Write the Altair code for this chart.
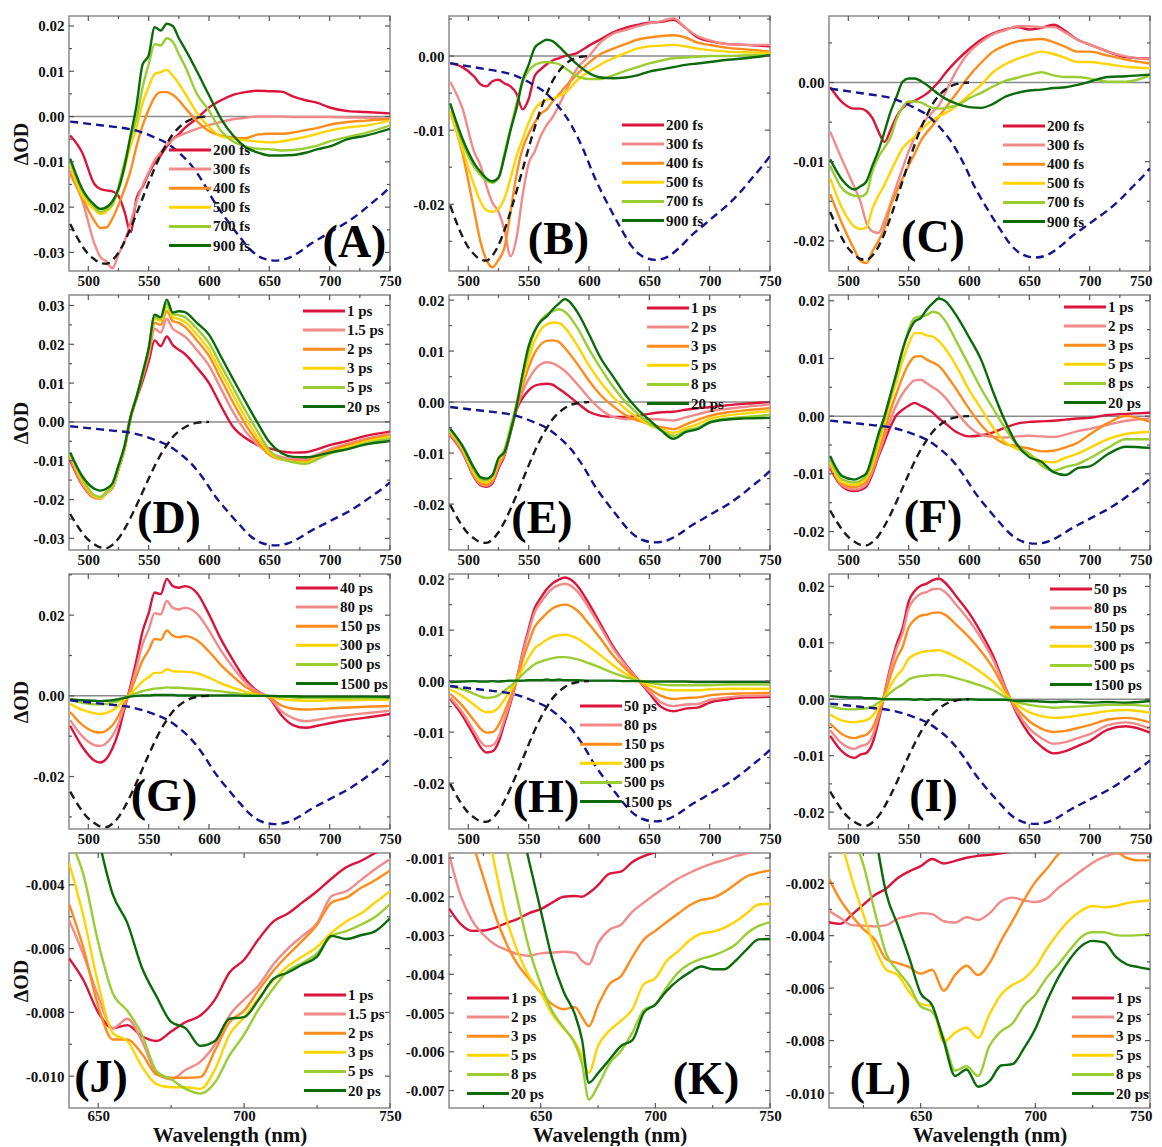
import altair as alt
import pandas as pd

# ---------------------------------------------------------------- data
# Transient-absorption values are typed in mOD (units of 1e-3 ΔOD).
WL = [485, 495, 505, 510, 515, 520, 525, 530, 535, 540, 545, 550, 555, 560, 565, 570, 575, 580,
      590, 600, 610, 620, 630, 640, 650, 660, 670, 680, 690, 700, 715, 730, 750]
WL_J = [640, 645, 650, 655, 660, 665, 670, 675, 680, 685, 690, 695, 700, 705, 710, 715, 720,
        725, 730, 735, 740, 745, 750]
WL_K = [610, 615, 620, 625, 630, 635, 640, 645, 650, 655, 660, 665, 668, 671, 675, 680, 685,
        690, 695, 700, 705, 710, 715, 720, 725, 730, 735, 740, 745, 750]
WL_L = [610, 615, 620, 625, 630, 635, 640, 645, 650, 655, 660, 665, 670, 675, 680, 685, 690,
        695, 700, 705, 710, 715, 720, 725, 730, 735, 740, 745, 750]

LAB_FS = ["200 fs", "300 fs", "400 fs", "500 fs", "700 fs", "900 fs"]
LAB_D = ["1 ps", "1.5 ps", "2 ps", "3 ps", "5 ps", "20 ps"]
LAB_E = ["1 ps", "2 ps", "3 ps", "5 ps", "8 ps", "20 ps"]
LAB_G = ["40 ps", "80 ps", "150 ps", "300 ps", "500 ps", "1500 ps"]
LAB_H = ["50 ps", "80 ps", "150 ps", "300 ps", "500 ps", "1500 ps"]

# steady-state reference spectra (normalised shapes, dashed curves)
GSB_WL = [485, 490, 495, 500, 505, 510, 515, 520, 525, 530, 535, 540, 545, 550, 555, 560, 565,
          570, 575, 580, 585, 590, 595, 600]
GSB_SHAPE = [0.73, 0.81, 0.88, 0.935, 0.97, 0.995, 1.0, 0.975, 0.925, 0.85, 0.76, 0.66, 0.555,
             0.45, 0.35, 0.26, 0.185, 0.12, 0.075, 0.042, 0.02, 0.008, 0.002, 0.0]
ABS_WL = [485, 495, 505, 515, 525, 535, 545, 555, 565, 575, 585, 595, 605, 615, 625, 635, 645,
          655, 665, 675, 685, 695, 705, 715, 725, 735, 745, 750]
ABS_SHAPE = [0.035, 0.045, 0.055, 0.065, 0.075, 0.088, 0.112, 0.145, 0.185, 0.25, 0.335, 0.455,
             0.6, 0.72, 0.83, 0.93, 0.985, 1.0, 0.985, 0.94, 0.88, 0.83, 0.78, 0.73, 0.67, 0.6,
             0.53, 0.49]
# depth (ΔOD) of black / blue dashed reference in each panel
REF_DEPTH = {"A": (-0.0325, -0.0318), "B": (-0.0276, -0.0275), "C": (-0.0224, -0.0221),
             "D": (-0.0325, -0.0318), "E": (-0.0276, -0.0275), "F": (-0.0224, -0.0221),
             "G": (-0.0325, -0.0318), "H": (-0.0276, -0.0275), "I": (-0.0224, -0.0221)}

A_200 = [-4.2, -8, -14.9, -16, -16.3, -16.5, -17.5, -21, -25.5, -18, -15.5, -12.6, -10.2, -8.6, -6.6, -5, -3.9, -2.5, -0.4, 2, 3.6, 4.8, 5.4, 5.7, 5.6, 5.5, 4.4, 3.6, 3, 2, 1.2, 1, 0.7]
A_300 = [-11.9, -18.5, -28, -31, -32, -33.5, -30.5, -27.5, -23.5, -18.8, -15.2, -12.3, -9.6, -7.9, -6.2, -5, -4.3, -3.7, -2.7, -1.9, -1.2, -0.6, -0.3, 0, 0, 0, -0.1, -0.1, -0.1, -0.1, -0.2, -0.3, -0.5]
A_400 = [-12.7, -18, -23, -24.6, -24.5, -22.5, -19.5, -16, -12, -6.5, -2, 1.5, 4.3, 5.4, 5.4, 4.8, 3.6, 2, -1, -3.2, -4.2, -4.6, -4.8, -4, -3.8, -3.8, -3.5, -3, -2.5, -1.8, -1.2, -0.9, -0.5]
A_500 = [-10.8, -17.5, -20.5, -21.5, -21, -19.5, -16, -11.5, -6.5, -2.5, 3, 6.5, 9.4, 9.8, 10.3, 9, 7.3, 5.2, 0.8, -2.3, -4.4, -4.9, -5.2, -5.5, -5.7, -5.5, -5, -4.5, -3.8, -3.1, -2.4, -2, -0.9]
A_700 = [-9.7, -16.5, -20, -21.1, -20.5, -19.5, -15.5, -10.1, -5, -0.5, 6.5, 11.5, 16, 15.7, 17.3, 16.5, 13.8, 11.2, 5, 1.3, -3.2, -5.5, -6.6, -7.1, -7.2, -7.5, -7.4, -7, -6.4, -5.5, -4.5, -3.6, -2]
A_900 = [-9.3, -16, -19.5, -20.4, -20, -18.7, -16, -11, -4.2, 2.5, 11.5, 13.5, 19.7, 19, 20.5, 20, 17.3, 15, 10, 4.7, -0.5, -4.2, -6.7, -7.9, -8.6, -8.6, -8.5, -8, -7.2, -6.6, -5, -4.2, -2.7]

B_200 = [-1.0, -1.5, -2.8, -3.8, -4.1, -3.4, -3.2, -3.7, -4.1, -5.1, -7.2, -5.8, -2.7, -1.8, -1.1, -0.6, -0.3, 0, 0.4, 1.4, 2.3, 3.2, 3.8, 4.2, 4.5, 4.6, 4.9, 3.8, 2.5, 2.0, 1.6, 1.5, 1.3]
B_300 = [-3.5, -7, -13, -14.7, -17.5, -19.8, -21, -23.5, -27, -24.5, -18.8, -14.5, -12.9, -10.8, -9.3, -8.2, -6.7, -5, -1.7, 0, 1.9, 3, 3.5, 4, 4.4, 4.7, 5.1, 3.8, 2.7, 2.1, 1.6, 1.5, 1.5]
B_400 = [-7.5, -13, -21, -25, -27.5, -28.5, -27.5, -25.8, -21, -16, -12.5, -10.5, -9, -7.8, -7.2, -6.1, -5.2, -4.2, -2.5, -0.9, 0.3, 1, 1.6, 2.2, 2.5, 2.7, 2.8, 2.5, 1.8, 1.5, 1.1, 0.9, 0.6]
B_500 = [-7.5, -12.5, -17.5, -19.6, -20.8, -21, -20.6, -19.2, -16.5, -13.5, -11.2, -9, -7.2, -6.3, -5.9, -5.7, -5.4, -5, -3.3, -2.1, -1.1, -0.3, 0.4, 1, 1.3, 1.4, 1.5, 1.3, 1, 0.8, 0.6, 0.5, 0.4]
B_700 = [-6.6, -11.6, -15, -16, -16.8, -17.1, -16.5, -13.1, -9.8, -6.4, -3.5, -2.0, -1.2, -0.9, -0.8, -0.9, -1.1, -1.6, -2.7, -3.1, -3.1, -2.6, -2, -1.5, -1, -0.6, -0.3, -0.2, -0.1, 0, 0, 0.1, 0.1]
B_900 = [-6.4, -11.1, -14.5, -15.6, -16.5, -16.9, -16.4, -13.5, -10, -7, -3.3, -1.2, 1.1, 1.8, 2.2, 2.0, 1.3, 0.5, -1.1, -2.3, -2.9, -3.0, -2.9, -2.6, -2.1, -1.8, -1.5, -1.2, -1.0, -0.8, -0.5, -0.3, 0.1]

C_200 = [-0.6, -2.5, -3.3, -3.3, -3.6, -4.5, -6.2, -7.5, -6, -4.3, -3.2, -2.6, -2.3, -1.9, -1.4, -0.7, 0.1, 1.1, 2.8, 4.2, 5.4, 6.2, 6.7, 7, 6.7, 6.9, 7.3, 6.5, 5.4, 4.8, 3.9, 3.2, 3]
C_300 = [-6.2, -9.8, -13.2, -15, -17.7, -18.8, -19, -17.4, -15.3, -13, -10.8, -8.7, -6.9, -5.6, -4.5, -3.7, -2.9, -1.4, 1.6, 3.8, 5.1, 6.1, 6.6, 7.1, 7.1, 7, 7, 6.3, 5.4, 4.8, 3.9, 3.3, 2.9]
C_400 = [-14.1, -17.9, -21.1, -22.5, -22.8, -21.3, -20, -18.4, -15.6, -13.8, -12.1, -10.5, -9, -7.4, -6.3, -5.4, -4.3, -3.3, -1.3, 0.8, 2.5, 3.9, 4.7, 5.2, 5.4, 5.5, 5.1, 4.5, 3.9, 3.9, 3.4, 2.9, 2.4]
C_500 = [-12.1, -15.9, -18.2, -18.5, -18.3, -15.9, -14.3, -12.9, -11.3, -9.7, -8.3, -7.5, -6.8, -6, -5.3, -4.7, -4.3, -3.9, -2.9, -1.6, -0.3, 1.3, 2.3, 3, 3.5, 3.9, 3.6, 3.1, 2.6, 2.6, 2.3, 2, 1.8]
C_700 = [-10.5, -13.4, -14.3, -14.4, -14, -11.2, -9.4, -8.2, -6.9, -4.6, -3.1, -2.4, -2.4, -2.5, -2.9, -3.2, -3.3, -3.2, -2.9, -2, -1.3, -0.5, 0.2, 0.6, 1, 1.3, 0.9, 0.7, 0.7, 0.5, 0.1, 0.1, 0.9]
C_900 = [-9.7, -12.3, -13.5, -13.1, -12.5, -10.5, -8.6, -6.2, -3.7, -1.8, 0.1, 0.5, 0.5, 0.2, -0.3, -0.9, -1.5, -2, -2.7, -3.1, -3.2, -2.7, -1.8, -1.3, -1, -0.9, -0.7, -0.6, -0.3, 0.1, 0.7, 0.8, 1]

D_1 = [-10, -16.2, -19.5, -19.6, -18.2, -17, -12.2, -7, 1, 6, 10.5, 15.5, 21, 19.5, 22, 19.8, 18.6, 17.5, 14, 10, 4.1, -1.3, -4.1, -5.9, -6.8, -7.6, -7.9, -7.8, -7, -6, -4.9, -3.6, -2.5]
D_15 = [-9.5, -16, -19.6, -19.8, -18.4, -17, -12.2, -7, 1, 6.2, 11.5, 17, 24, 23, 26.5, 24, 23, 22, 18.5, 14.5, 8.5, 2.5, -2.3, -5.8, -8, -9, -9.6, -9.5, -8.3, -7, -5.6, -4.3, -3.0]
D_2 = [-9, -15.5, -19.4, -19.7, -18.3, -16.8, -12, -6.8, 1.1, 6.3, 12, 18, 25.5, 25, 28.5, 26, 25.5, 24.5, 21, 17, 11, 5, -0.5, -5, -8.5, -9.7, -10, -10.1, -8.8, -7.5, -6, -4.7, -3.5]
D_3 = [-8.6, -15.2, -19.2, -19.6, -18.2, -16.6, -11.9, -6.7, 1.2, 6.4, 12.3, 18.5, 26.5, 26, 29.5, 27, 26.5, 25.8, 22.5, 18.6, 12.8, 7, 1.2, -3.8, -8, -9.6, -10.3, -10.5, -9.2, -7.8, -6.5, -5.1, -3.8]
D_5 = [-8.2, -14.5, -18.9, -19.3, -18, -16.4, -11.8, -6.5, 1.3, 6.5, 12.5, 18.8, 27, 26.5, 30.5, 27.8, 27.5, 27, 24, 20.3, 14.5, 8.8, 3, -2.3, -7.3, -9.5, -10.4, -10.8, -9.6, -8.2, -7, -5.5, -4.3]
D_20 = [-7.9, -14, -17.2, -17.7, -17.2, -15.8, -11.2, -6.2, 1.3, 6.5, 12.5, 19, 27.6, 27, 31.5, 28.2, 28.5, 28.3, 25.5, 22.5, 16.8, 11, 5.4, -0.1, -5.2, -8, -9, -9.1, -8.7, -7.9, -7, -5.8, -4.9]

E_1 = [-6.5, -9.8, -14.8, -16.3, -16.6, -15.9, -13, -10.5, -6, -1.5, 0.8, 2.3, 3.2, 3.5, 3.6, 3.4, 2.6, 1.8, -0.1, -1.9, -2.7, -2.9, -2.9, -2.7, -2.3, -2, -1.9, -1.5, -1.2, -1, -0.6, -0.3, 0]
E_2 = [-6.3, -9.6, -14.6, -16.1, -16.4, -15.6, -12.6, -10.2, -5.8, -1.2, 2.0, 4.5, 6.3, 7.4, 7.8, 7.6, 7, 6.1, 3.6, 0.8, -1.5, -2.9, -3.3, -3.3, -3.3, -3.4, -3.6, -3.0, -2.4, -1.8, -1.3, -0.9, -0.5]
E_3 = [-6.0, -9.4, -14.4, -15.9, -16.2, -15.3, -12.2, -9.9, -5.5, -0.9, 3.2, 6.8, 9.6, 11.3, 12, 12.1, 11.8, 10.6, 7.6, 4.2, 1.3, -0.8, -2.5, -3.6, -4.3, -4.9, -5.3, -4.4, -3.5, -2.7, -2, -1.6, -1.2]
E_5 = [-5.7, -9.1, -14, -15.5, -15.7, -14.9, -11.7, -9.6, -5.2, -0.6, 4.3, 8.5, 12, 14.2, 15.2, 15.6, 15.5, 14.6, 11.2, 7.2, 3.8, 1, -1.3, -3, -4.5, -5.3, -6, -5.1, -4.3, -3.3, -2.6, -2.2, -1.8]
E_8 = [-5.4, -8.8, -13.5, -15.1, -15.3, -14.5, -11.2, -9.3, -4.9, -0.3, 5.3, 10, 13.8, 16, 17.2, 17.8, 18.2, 17.7, 14.7, 10.4, 6.5, 3, 0.1, -2.2, -4.2, -5.5, -6.6, -5.6, -5, -3.9, -3.2, -2.9, -2.5]
E_20 = [-5.2, -8.5, -13, -14.7, -15, -14.3, -11, -9.8, -5.8, -0.8, 5.5, 11, 14, 15.8, 16.8, 18.2, 19.3, 20.2, 17.8, 13.3, 8.5, 5, 1.5, -1.3, -3.5, -5.6, -7.2, -5.9, -5.3, -4, -3.4, -3.2, -3.1]

F_1 = [-9, -12.2, -13, -12.8, -12.2, -10, -7, -4.4, -1.8, 0.2, 1.1, 1.8, 2.3, 1.8, 1.3, 0.6, -0.4, -1.2, -2.8, -3.5, -3.3, -2.8, -2.0, -1.3, -1.0, -0.9, -0.8, -0.6, -0.4, -0.3, 0.2, 0.4, 0.6]
F_2 = [-8.6, -12, -12.7, -12.5, -11.8, -9.6, -6.6, -3.6, -0.5, 2.0, 3.9, 5.3, 6.2, 6.3, 5.7, 5, 4.3, 3.3, 0.6, -1.8, -3.2, -3.6, -3.7, -3.5, -3.4, -3.5, -3.6, -3.2, -2.6, -2.2, -1.5, -0.8, -0.4]
F_3 = [-8.3, -11.8, -12.3, -12, -11.3, -9, -5.8, -2.5, 1, 4, 6.8, 9, 10.3, 10.4, 9.8, 9.3, 8.7, 7.5, 4.5, 1.3, -1.5, -3.6, -4.8, -5.2, -5.6, -6.1, -6, -5.4, -4.6, -3.2, -1.2, 0, -1]
F_5 = [-8, -11.5, -11.9, -11.6, -10.8, -8.4, -5, -1.3, 2.6, 6, 9.6, 12.5, 14.4, 14.4, 14, 13.8, 13, 11.8, 8.5, 4.6, 1.3, -2, -4.5, -5.7, -6.6, -7.8, -8, -7.2, -6.5, -5.5, -4, -3.1, -2.7]
F_8 = [-7.4, -11, -11.5, -11.2, -10.3, -7.6, -4, -0.5, 3.4, 7.2, 11.2, 15, 17, 17.3, 17.5, 18.1, 17.8, 16.6, 12.8, 8.8, 4.8, 1.3, -2.1, -5, -6.5, -8.5, -9.5, -8.8, -8.3, -7.3, -5.5, -4, -4]
F_20 = [-6.9, -10.4, -11, -10.6, -9.9, -6.8, -3.1, 0, 3.8, 7.6, 11.6, 14.5, 16.4, 17, 18.5, 19.6, 20.4, 20, 17.3, 13.7, 9.8, 4.2, -0.9, -5, -7.1, -7.9, -9.7, -10.2, -9, -8.7, -6.6, -5.3, -5.5]

G_40 = [-7.4, -12.6, -16, -16.5, -15.6, -13, -9, -3.1, 2.5, 9, 16, 20.5, 25.6, 25.2, 29, 27.2, 26.8, 27.2, 25.5, 20.2, 14, 8.8, 4.2, 1.2, -0.5, -4.8, -7.3, -7.9, -7.4, -6.8, -6, -5.4, -4.5]
G_80 = [-6, -10, -12.2, -12.4, -11.7, -9.9, -6.9, -2.5, 1.8, 7.2, 12.8, 16.4, 20.5, 20.2, 23.5, 21.8, 21.4, 21.8, 20.4, 16.2, 11.2, 7, 3.4, 1, -0.4, -3.8, -5.6, -6.3, -5.9, -5.4, -4.8, -4.3, -3.7]
G_150 = [-4, -7.2, -8.9, -9.1, -8.6, -7.3, -5, -1.8, 1.2, 5, 8.8, 11.3, 14.1, 13.9, 16.2, 14.9, 14.5, 14.8, 13.8, 11, 7.6, 4.8, 2.3, 0.6, -0.3, -2.4, -3.2, -3.4, -3.3, -3.1, -2.9, -2.7, -2.5]
G_300 = [-2, -3.5, -4.3, -4.5, -4.2, -3.6, -2.5, -0.9, 0.5, 2, 3.6, 4.6, 5.7, 5.7, 6.6, 6.1, 6, 6, 5.6, 4.5, 3.1, 2, 1, 0.3, -0.1, -0.8, -1.1, -1.2, -1.2, -1.1, -1.1, -1.0, -1.0]
G_500 = [-1, -1.7, -2.1, -2.1, -2, -1.7, -1.3, -0.5, 0.2, 0.7, 1.2, 1.5, 1.8, 1.9, 2.1, 2, 2, 1.9, 1.7, 1.4, 1.1, 0.7, 0.4, 0.1, 0, -0.2, -0.4, -0.5, -0.5, -0.6, -0.6, -0.6, -0.6]
G_1500 = [-0.8, -1.1, -1.2, -1.3, -1.2, -1.1, -0.8, -0.5, -0.2, 0, 0.1, 0.1, 0.2, 0.2, 0.2, 0.2, 0.1, 0.1, 0.1, 0.1, 0.1, 0.1, 0, 0, 0, -0.1, -0.1, -0.2, -0.2, -0.2, -0.2, -0.2, -0.3]

H_50 = [-3.5, -6.7, -10.8, -12.9, -14, -13.8, -12, -8.2, -4.3, 0.2, 5.6, 10.2, 14.3, 16.3, 18, 19.2, 19.9, 20.3, 18.8, 15.2, 11, 6.8, 3.4, 0.5, -2.4, -5.1, -5.9, -5.4, -5.2, -4.2, -3.6, -3.2, -3.1]
H_80 = [-3.2, -6.1, -9.9, -11.8, -12.8, -12.6, -11, -7.5, -3.9, 0.2, 5.3, 9.6, 13.5, 15.4, 17, 18.2, 18.8, 19.1, 17.7, 14.3, 10.4, 6.4, 3.2, 0.4, -2.0, -4.2, -4.9, -4.6, -4.5, -3.7, -3.2, -2.9, -2.8]
H_150 = [-2.5, -4.8, -7.8, -9.3, -10.1, -10, -8.7, -6, -3.1, 0.1, 4.1, 7.5, 10.6, 12.1, 13.3, 14.3, 14.8, 15, 13.9, 11.2, 8.2, 5, 2.5, 0.3, -1.5, -2.9, -3.5, -3.3, -3.2, -2.8, -2.5, -2.4, -2.3]
H_300 = [-1.6, -2.9, -4.7, -5.6, -6.1, -6, -5.2, -3.6, -1.8, 0.1, 2.5, 4.6, 6.4, 7.3, 8.1, 8.7, 9, 9.1, 8.4, 6.8, 5, 3.1, 1.5, 0.2, -0.8, -1.5, -1.8, -1.8, -1.8, -1.6, -1.5, -1.5, -1.5]
H_500 = [-1, -1.6, -2.5, -3, -3.3, -3.2, -2.8, -1.9, -1, 0.1, 1.3, 2.4, 3.3, 3.8, 4.2, 4.5, 4.7, 4.7, 4.3, 3.5, 2.6, 1.6, 0.8, 0.2, -0.3, -0.7, -0.8, -0.8, -0.8, -0.8, -0.7, -0.7, -0.7]
H_1500 = [-0.2, -0.1, 0, -0.1, -0.1, 0, -0.1, 0, 0.1, 0.1, 0.1, 0.2, 0.2, 0.2, 0.3, 0.2, 0.3, 0.2, 0.2, 0.1, 0.1, 0.1, 0, 0, -0.1, -0.1, -0.1, -0.1, -0.2, -0.2, -0.2, -0.2, -0.2]

I_50 = [-6.5, -9.3, -10.4, -9.8, -9.5, -7.8, -3.9, 1, 5.8, 9.7, 12.6, 17.3, 19.2, 20.1, 20.5, 21.1, 21.4, 20.7, 18.1, 15.3, 11.8, 7.7, 2.2, -2.7, -6.2, -8.4, -9.6, -9.2, -8.3, -7.4, -5.4, -4.8, -5.9]
I_80 = [-5.5, -7.9, -8.8, -8.3, -8, -6.5, -3.2, 0.9, 5.3, 9, 11.7, 16.1, 17.8, 18.7, 19, 19.5, 19.6, 19, 16.6, 14, 10.8, 7, 2, -2.3, -5.2, -6.9, -7.9, -7.6, -6.9, -6.2, -4.6, -4.1, -5.2]
I_150 = [-4.3, -6.2, -6.9, -6.6, -6.3, -5.1, -2.5, 0.7, 4.2, 7.2, 9.3, 12.7, 14.1, 14.8, 15, 15.3, 15.4, 15, 13.1, 11, 8.5, 5.5, 1.6, -1.7, -3.9, -5.2, -5.8, -5.6, -5.1, -4.6, -3.6, -3.3, -4.1]
I_300 = [-2.7, -3.8, -4.1, -3.9, -3.7, -3, -1.4, 0.4, 2.4, 4.1, 5.3, 7.2, 7.9, 8.3, 8.5, 8.6, 8.7, 8.4, 7.4, 6.2, 4.8, 3.1, 0.9, -1, -2.3, -3, -3.3, -3.2, -2.9, -2.6, -2.1, -1.9, -2.4]
I_500 = [-1.2, -1.7, -1.8, -1.7, -1.6, -1.3, -0.6, 0.2, 1.2, 2, 2.6, 3.5, 3.9, 4.1, 4.2, 4.3, 4.3, 4.2, 3.7, 3.1, 2.4, 1.6, 0.4, -0.5, -1, -1.3, -1.5, -1.4, -1.3, -1.2, -1, -1, -1.2]
I_1500 = [0.6, 0.4, 0.3, 0.3, 0.2, 0.2, 0.1, 0, 0, 0, 0, 0, -0.1, 0, -0.1, 0, 0, -0.1, -0.1, 0, -0.1, -0.1, -0.1, -0.3, -0.3, -0.4, -0.5, -0.4, -0.5, -0.6, -0.5, -0.6, -0.3]

J_1 = [-6.3, -7.0, -8.0, -8.5, -8.4, -8.75, -8.9, -8.6, -8.3, -8.1, -7.6, -6.75, -6.35, -5.7, -5.15, -4.9, -4.55, -4.2, -3.8, -3.45, -3.25, -3.0, -2.8]
J_15 = [-5.1, -6.2, -7.5, -8.5, -8.2, -8.9, -9.9, -10.1, -9.8, -9.55, -9, -8.1, -7.6, -7.15, -6.5, -6.0, -5.6, -5.2, -4.35, -4.2, -3.85, -3.5, -3.2]
J_2 = [-4.6, -6.0, -7.8, -8.85, -8.85, -9.3, -9.95, -10.05, -10.05, -10.03, -9.2, -8.3, -7.95, -7.3, -6.7, -6.2, -5.75, -5.25, -4.55, -4.4, -4.1, -3.85, -3.55]
J_3 = [-3.3, -5.0, -7.1, -8.65, -8.9, -9.7, -10.25, -10.35, -10.35, -10.4, -9.8, -8.7, -8.15, -7.55, -7.0, -6.55, -6.25, -5.95, -5.5, -5.15, -4.9, -4.55, -4.2]
J_5 = [-2.5, -3.7, -5.8, -7.4, -7.95, -8.7, -9.85, -10.1, -10.4, -10.55, -10.2, -9.35, -8.7, -7.9, -7.25, -6.7, -6.45, -6.15, -5.6, -5.45, -5.25, -5.0, -4.6]
J_20 = [None, None, -2.5, -4.3, -5.2, -6.6, -7.5, -8.3, -8.5, -9.05, -8.9, -8.2, -8.15, -7.6, -6.95, -6.75, -6.5, -6.25, -5.6, -5.7, -5.58, -5.45, -5.05]

K_1 = [-2.3, -2.7, -2.88, -2.87, -2.8, -2.68, -2.57, -2.42, -2.32, -2.15, -2.0, -1.98, -2.0, -1.9, -1.7, -1.4, -1.35, -1.1, -0.95, -0.85, -0.78, None, None, None, None, None, None, None, None, None]
K_2 = [-0.9, -1.95, -2.6, -2.98, -3.23, -3.37, -3.48, -3.52, -3.46, -3.44, -3.42, -3.45, -3.65, -3.74, -3.2, -2.85, -2.72, -2.38, -2.15, -1.93, -1.72, -1.53, -1.38, -1.25, -1.14, -1.05, -0.95, -0.88, -0.8, -0.72]
K_3 = [None, None, -0.56, -1.5, -2.45, -3.2, -3.75, -4.12, -4.47, -4.77, -4.9, -4.85, -5.1, -5.34, -4.8, -4.25, -4.05, -3.55, -3.1, -2.88, -2.65, -2.43, -2.22, -2.08, -2.03, -1.88, -1.67, -1.47, -1.38, -1.32]
K_5 = [None, None, None, 0.4, -1.2, -2.55, -3.42, -4.06, -4.47, -5.03, -5.4, -5.75, -6.1, -6.54, -5.85, -5.45, -5.2, -4.9, -4.25, -4.1, -3.65, -3.4, -3.12, -2.95, -2.9, -2.8, -2.64, -2.42, -2.2, -2.18]
K_8 = [None, None, None, None, 0.6, -0.76, -2.1, -3.35, -4.25, -4.95, -5.37, -5.8, -6.3, -7.23, -6.87, -6.3, -5.98, -5.5, -4.92, -4.78, -4.33, -3.95, -3.73, -3.6, -3.52, -3.4, -3.23, -2.94, -2.75, -2.66]
K_20 = [None, None, None, None, None, None, 0.2, -1.1, -2.35, -3.6, -4.45, -5.05, -5.68, -6.8, -6.55, -6.2, -5.85, -5.7, -4.99, -4.78, -4.42, -4.15, -3.95, -3.8, -3.87, -3.87, -3.65, -3.35, -3.1, -3.09]

L_1 = [-3.49, -3.55, -3.2, -2.82, -2.45, -2.2, -1.8, -1.55, -1.35, -1.08, -1.25, -1.15, -1.03, -0.96, -0.92, -0.86, -0.8, None, None, None, None, None, None, None, None, None, None, None, None]
L_2 = [-3.05, -3.33, -3.6, -3.62, -3.65, -3.6, -3.35, -3.25, -3.14, -3.18, -3.45, -3.5, -3.3, -3.4, -3.15, -2.7, -2.55, -2.65, -2.72, -2.58, -2.18, -1.86, -1.53, -1.22, -1.0, -0.87, -0.86, -0.86, -0.86]
L_3 = [-1.83, -2.65, -3.25, -3.75, -4.15, -4.9, -5.05, -5.2, -5.45, -5.3, -6.1, -5.5, -5.15, -5.5, -5.05, -4.2, -3.45, -2.65, -1.95, -1.45, -0.9, -0.5, -0.3, -0.3, -0.5, -0.75, -1.05, -1.13, -1.13]
L_5 = [None, -0.3, -1.85, -3.2, -4.45, -5.3, -5.5, -6.15, -6.6, -6.7, -8.05, -7.7, -7.51, -7.9, -7.0, -6.25, -5.88, -5.65, -5.2, -4.5, -3.9, -3.4, -3.05, -2.87, -2.92, -2.87, -2.76, -2.7, -2.66]
L_8 = [None, None, -0.2, -1.3, -3.1, -4.7, -5.35, -5.9, -6.7, -6.9, -7.9, -9.15, -8.98, -9.35, -8.2, -7.65, -7.35, -6.68, -6.25, -5.6, -5.1, -4.55, -4.05, -3.87, -3.87, -3.98, -4.0, -3.98, -3.94]
L_20 = [None, None, None, None, 0.0, -2.4, -3.6, -4.85, -6.2, -6.65, -8.0, -9.35, -9.1, -9.76, -9.55, -8.95, -8.9, -8.3, -7.55, -6.5, -5.6, -4.9, -4.4, -4.2, -4.26, -4.8, -5.1, -5.2, -5.28]

# ---------------------------------------------------------------- style
FONT = "Liberation Serif"
COLORS = ["#dc143c", "#f28a8a", "#ff8c1a", "#ffd400", "#9acd32", "#0b6b0b"]
GRAY = "#8a8a8a"
TICK = "#555555"
PW, PH = 321, 255
LEG_DY = 19.1      # legend row pitch (px)
LEG_LEN = 42       # legend line length (px)

X_TOP = dict(xdom=[484, 750], xmaj=[500, 550, 600, 650, 700, 750], xmin=[525, 575, 625, 675, 725])


def panel(letter, wl, series, labels, ydom, ymaj, ymin, yfmt, leg, lab,
          xdom, xmaj, xmin, ytitle=False, xtitle=False, refs=None, zero=True, flush=False):
    rows = []
    for name, arr in zip(labels, series):
        if len(arr) != len(wl):
            raise ValueError(f"{letter} {name}: {len(arr)} values for {len(wl)} wavelengths")
        for w, v in zip(wl, arr):
            rows.append({"wl": w, "od": (None if v is None else v / 1000.0), "series": name})
    df = pd.DataFrame(rows)

    xkw = dict(values=xmaj, format="d", labelPadding=(0 if xtitle else 2), labelOverlap=False)
    if flush:
        xkw.update(labelFlush=True, labelFlushOffset=2)
    else:
        xkw.update(labelFlush=False)
    if xtitle:
        xkw.update(title="Wavelength (nm)", titleFontSize=21, titleX=PW / 2, titleY=27,
                   titleAlign="center", titleBaseline="middle")
    else:
        xkw.update(title=None)
    ykw = dict(values=ymaj, labelPadding=5, labelOverlap=False,
               labelExpr=f"replace(format(datum.value, '{yfmt}'), '\u2212', '-')")
    if ytitle:
        ykw.update(title="ΔOD", titleFontSize=20, titleX=-48, titleY=PH / 2, titleAngle=270,
                   titleAlign="center", titleBaseline="middle")
    else:
        ykw.update(title=None)

    xenc = alt.X("wl:Q", scale=alt.Scale(domain=xdom, nice=False, zero=False), axis=alt.Axis(**xkw))
    yenc = alt.Y("od:Q", scale=alt.Scale(domain=ydom, nice=False, zero=False), axis=alt.Axis(**ykw))
    cscale = alt.Scale(domain=labels, range=COLORS)

    layers = []
    if zero:
        layers.append(alt.Chart(pd.DataFrame({"od": [0.0]})).mark_rule(
            color=GRAY, strokeWidth=1.5).encode(y=yenc))
    layers.append(alt.Chart(df).mark_line(strokeWidth=2.4, clip=True, interpolate="monotone").encode(
        x=xenc, y=yenc, color=alt.Color("series:N", scale=cscale, legend=None)))
    if refs:
        gb = pd.DataFrame({"wl": GSB_WL, "od": [s * refs[0] for s in GSB_SHAPE]})
        ab = pd.DataFrame({"wl": ABS_WL, "od": [s * refs[1] for s in ABS_SHAPE]})
        layers.append(alt.Chart(gb).mark_line(color="#1a1a1a", strokeDash=[8, 5], strokeWidth=2.4,
                                              clip=True, interpolate="monotone").encode(x=xenc, y=yenc))
        layers.append(alt.Chart(ab).mark_line(color="#14148c", strokeDash=[8, 5], strokeWidth=2.4,
                                              clip=True, interpolate="monotone").encode(x=xenc, y=yenc))

    # inward ticks on all four sides
    ymaj_in = [t for t in ymaj if ydom[0] <= t <= ydom[1]]
    ymin_in = [t for t in ymin if ydom[0] <= t <= ydom[1]]
    tk = dict(color=TICK, strokeWidth=1.2)
    for vals, ln in ((xmaj, 5), (xmin, 3)):
        d = pd.DataFrame({"wl": vals})
        layers.append(alt.Chart(d).mark_rule(**tk).encode(x=xenc, y=alt.value(PH), y2=alt.value(PH - ln)))
        layers.append(alt.Chart(d).mark_rule(**tk).encode(x=xenc, y=alt.value(0), y2=alt.value(ln)))
    for vals, ln in ((ymaj_in, 5), (ymin_in, 3)):
        d = pd.DataFrame({"od": vals})
        layers.append(alt.Chart(d).mark_rule(**tk).encode(y=yenc, x=alt.value(0), x2=alt.value(ln)))
        layers.append(alt.Chart(d).mark_rule(**tk).encode(y=yenc, x=alt.value(PW), x2=alt.value(PW - ln)))

    # in-plot legend (line sample + label)
    leg_df = pd.DataFrame({"series": labels,
                           "ly": [leg[1] + i * LEG_DY for i in range(len(labels))]})
    ly = alt.Y("ly:Q", scale=None, axis=None)
    layers.append(alt.Chart(leg_df).mark_rule(strokeWidth=3).encode(
        x=alt.value(leg[0]), x2=alt.value(leg[0] + LEG_LEN), y=ly,
        color=alt.Color("series:N", scale=cscale, legend=None)))
    layers.append(alt.Chart(leg_df).mark_text(
        align="left", baseline="middle", font=FONT, fontSize=15, fontWeight="bold",
        color="#111111").encode(x=alt.value(leg[0] + LEG_LEN + 2), y=ly, text="series:N"))

    layers.append(alt.Chart(pd.DataFrame({"t": [f"({letter})"]})).mark_text(
        font=FONT, fontSize=46, fontWeight="bold", color="#000000", align="center",
        baseline="middle").encode(text="t:N", x=alt.value(lab[0]), y=alt.value(lab[1])))
    return alt.layer(*layers).properties(width=PW, height=PH)


Y_E = dict(ymaj=[-0.02, -0.01, 0.0, 0.01, 0.02], ymin=[-0.025, -0.015, -0.005, 0.005, 0.015], yfmt=".2f")

panels = [
    panel("A", WL, [A_200, A_300, A_400, A_500, A_700, A_900], LAB_FS, [-0.0341, 0.0222],
          [-0.03, -0.02, -0.01, 0.0, 0.01, 0.02], [-0.025, -0.015, -0.005, 0.005, 0.015], ".2f",
          (100, 134), (285.5, 227), ytitle=True, refs=REF_DEPTH["A"], **X_TOP),
    panel("B", WL, [B_200, B_300, B_400, B_500, B_700, B_900], LAB_FS, [-0.0290, 0.0054],
          [-0.02, -0.01, 0.0], [-0.025, -0.015, -0.005, 0.005], ".2f",
          (173, 109), (109.5, 223.5), refs=REF_DEPTH["B"], **X_TOP),
    panel("C", WL, [C_200, C_300, C_400, C_500, C_700, C_900], LAB_FS, [-0.0238, 0.0084],
          [-0.02, -0.01, 0.0], [-0.015, -0.005, 0.005], ".2f",
          (174, 110), (104, 222), refs=REF_DEPTH["C"], flush=True, **X_TOP),
    panel("D", WL, [D_1, D_15, D_2, D_3, D_5, D_20], LAB_D, [-0.0330, 0.0327],
          [-0.03, -0.02, -0.01, 0.0, 0.01, 0.02, 0.03], [-0.025, -0.015, -0.005, 0.005, 0.015, 0.025], ".2f",
          (234, 16), (100, 224), ytitle=True, refs=REF_DEPTH["D"], **X_TOP),
    panel("E", WL, [E_1, E_2, E_3, E_5, E_8, E_20], LAB_E, [-0.0290, 0.0210], leg=(198, 13), lab=(93, 224),
          refs=REF_DEPTH["E"], **Y_E, **X_TOP),
    panel("F", WL, [F_1, F_2, F_3, F_5, F_8, F_20], LAB_E, [-0.0232, 0.0210], leg=(235, 12), lab=(104, 223),
          refs=REF_DEPTH["F"], flush=True, **Y_E, **X_TOP),
    panel("G", WL, [G_40, G_80, G_150, G_300, G_500, G_1500], LAB_G, [-0.0330, 0.0302],
          [-0.02, 0.0, 0.02], [-0.03, -0.01, 0.01, 0.03], ".2f",
          (227, 14), (95, 223), ytitle=True, refs=REF_DEPTH["G"], **X_TOP),
    panel("H", WL, [H_50, H_80, H_150, H_300, H_500, H_1500], LAB_H, [-0.0290, 0.0210], leg=(131, 132),
          lab=(97, 224), refs=REF_DEPTH["H"], **Y_E, **X_TOP),
    panel("I", WL, [I_50, I_80, I_150, I_300, I_500, I_1500], LAB_H, [-0.0230, 0.0222], leg=(221, 15),
          lab=(104.5, 223), refs=REF_DEPTH["I"], flush=True, **Y_E, **X_TOP),
    panel("J", WL_J, [J_1, J_15, J_2, J_3, J_5, J_20], LAB_D, [-0.0110, -0.0030],
          [-0.010, -0.008, -0.006, -0.004], [-0.009, -0.007, -0.005], ".3f",
          (235, 142), (32, 225), xdom=[640, 750], xmaj=[650, 700, 750], xmin=[675, 725],
          ytitle=True, xtitle=True, zero=False),
    panel("K", WL_K, [K_1, K_2, K_3, K_5, K_8, K_20], LAB_E, [-0.00745, -0.00087],
          [-0.007, -0.006, -0.005, -0.004, -0.003, -0.002, -0.001],
          [-0.0065, -0.0055, -0.0045, -0.0035, -0.0025, -0.0015], ".3f",
          (18, 145), (257, 227), xdom=[610, 750], xmaj=[650, 700, 750], xmin=[625, 675, 725],
          xtitle=True, zero=False),
    panel("L", WL_L, [L_1, L_2, L_3, L_5, L_8, L_20], LAB_E, [-0.01057, -0.00085],
          [-0.010, -0.008, -0.006, -0.004, -0.002], [-0.009, -0.007, -0.005, -0.003, -0.001], ".3f",
          (243, 145), (51.5, 227), xdom=[610, 750], xmaj=[650, 700, 750], xmin=[625, 675, 725],
          xtitle=True, zero=False, flush=True),
]

chart = (
    alt.concat(*panels, columns=3, spacing={"row": 24, "column": 59}, bounds="flush")
    .resolve_scale(x="independent", y="independent", color="independent")
    .properties(padding={"left": 2, "top": 6, "right": 0, "bottom": 0}, background="white")
    .configure_view(stroke=GRAY, strokeWidth=1.5)
    .configure_axis(labelFont=FONT, labelFontSize=15, labelFontWeight="bold", labelColor="#111111",
                    titleFont=FONT, titleFontWeight="bold", titleColor="#111111",
                    domain=False, ticks=False, grid=False)
)

chart.save("out.html", embed_options={"renderer": "svg", "actions": False})
